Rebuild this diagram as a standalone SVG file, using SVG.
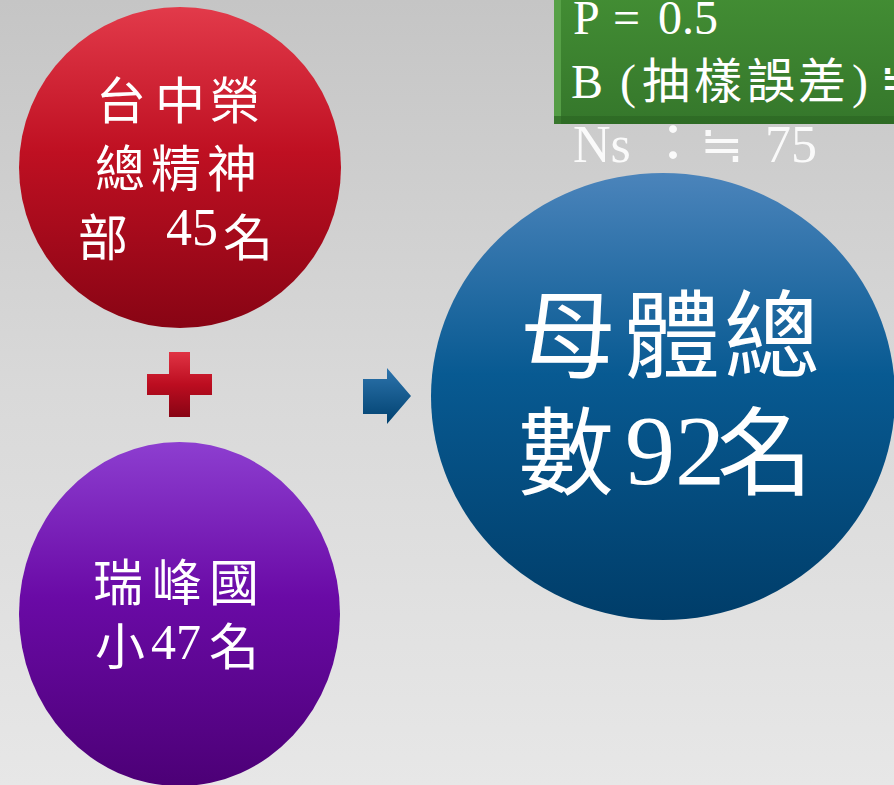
<svg xmlns="http://www.w3.org/2000/svg" width="894" height="785" viewBox="0 0 894 785">
<defs>
<linearGradient id="bg" x1="0" y1="0" x2="0" y2="1">
<stop offset="0" stop-color="#c5c5c5"/>
<stop offset="0.5" stop-color="#d9d9d9"/>
<stop offset="1" stop-color="#e7e7e7"/>
</linearGradient>
<linearGradient id="red" x1="0" y1="0" x2="0" y2="1">
<stop offset="0" stop-color="#e23a4a"/>
<stop offset="0.45" stop-color="#bf1022"/>
<stop offset="1" stop-color="#880414"/>
</linearGradient>
<linearGradient id="purple" x1="0" y1="0" x2="0" y2="1">
<stop offset="0" stop-color="#8d3ed0"/>
<stop offset="0.45" stop-color="#6a0aa6"/>
<stop offset="1" stop-color="#4c0076"/>
</linearGradient>
<linearGradient id="blue" x1="0" y1="0" x2="0" y2="1">
<stop offset="0" stop-color="#4b84bb"/>
<stop offset="0.45" stop-color="#085a92"/>
<stop offset="1" stop-color="#003d69"/>
</linearGradient>
<linearGradient id="green" x1="0" y1="0" x2="0" y2="1">
<stop offset="0" stop-color="#438e34"/>
<stop offset="1" stop-color="#35772b"/>
</linearGradient>
<linearGradient id="plusg" x1="0" y1="0" x2="0" y2="1">
<stop offset="0" stop-color="#e03444"/>
<stop offset="0.5" stop-color="#bc0d20"/>
<stop offset="1" stop-color="#880414"/>
</linearGradient>
<linearGradient id="arrowg" x1="0" y1="0" x2="0" y2="1">
<stop offset="0" stop-color="#2d74ad"/>
<stop offset="1" stop-color="#00416f"/>
</linearGradient>
<style>
text { fill: #ffffff; font-family: "Noto Sans CJK TC", "Liberation Serif", sans-serif; }
.r { font-family: "Liberation Serif", "Times New Roman", serif; }
.g { font-size: 48px; }
.ns { font-size: 52px; fill-opacity: 0.9; }
</style>
</defs>
<rect x="0" y="0" width="894" height="785" fill="url(#bg)"/>

<g id="box-params">
<rect x="554" y="-10" width="345" height="134" fill="url(#green)"/>
<rect x="554" y="-10" width="7" height="134" fill="#5da64c" opacity="0.8"/>
<rect x="554" y="116" width="345" height="8" fill="#2c6623" opacity="0.7"/>
<text class="g"><tspan class="r" x="573" y="34">P</tspan><tspan class="r" x="613" y="34">=</tspan><tspan class="r" x="658" y="34">0.5</tspan><tspan class="r" x="571" y="98">B</tspan><tspan class="r" x="620" y="98">(</tspan><tspan x="642 694 747 798" y="98">抽樣誤差</tspan><tspan class="r" x="852" y="98">)</tspan><tspan x="880" y="98">≒</tspan><tspan class="r ns" x="573" y="162">Ns</tspan><tspan class="ns" x="647" y="162">：</tspan><tspan class="ns" x="700" y="162">≒</tspan><tspan class="r ns" x="765" y="162">75</tspan></text>
</g>

<g id="node-taichung">
<ellipse cx="180" cy="167.5" rx="161" ry="160.5" fill="url(#red)"/>
<text font-size="50"><tspan x="96 155 210" y="119">台中榮</tspan><tspan x="95 151 207" y="187">總精神</tspan><tspan x="78" y="256">部</tspan><tspan class="r" x="166" y="245" font-size="52">45</tspan><tspan x="223" y="256">名</tspan></text>
</g>

<g id="node-ruifeng">
<ellipse cx="179.5" cy="614" rx="160.5" ry="172" fill="url(#purple)"/>
<text font-size="50"><tspan x="93 152 209" y="601">瑞峰國</tspan><tspan x="95" y="665">小</tspan><tspan class="r" x="151" y="659">47</tspan><tspan x="209" y="665">名</tspan></text>
</g>

<g id="node-total">
<ellipse cx="663" cy="396.5" rx="232" ry="223.5" fill="url(#blue)"/>
<text font-size="96"><tspan x="520 624 724" y="370">母體總</tspan><tspan x="518" y="487">數</tspan><tspan class="r" x="625" y="484" font-size="100">92</tspan><tspan x="717" y="487">名</tspan></text>
</g>

<g id="connectors">
<path id="plus" d="M169 352 H190 V374 H212 V395 H190 V417 H169 V395 H147 V374 H169 Z" fill="url(#plusg)"/>
<path id="arrow" d="M363 379 H387 V368 L411 396 L387 424 V414 H363 Z" fill="url(#arrowg)"/>
</g>
</svg>
